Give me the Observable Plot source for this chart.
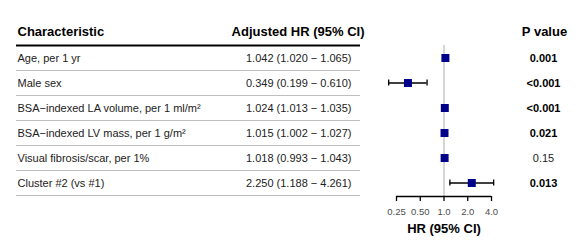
<!DOCTYPE html>
<html>
<head>
<meta charset="utf-8">
<script src="https://cdn.jsdelivr.net/npm/d3@7"></script>
<script src="https://cdn.jsdelivr.net/npm/@observablehq/plot@0.6"></script>
<style>
  html, body { margin: 0; padding: 0; background: #fff; }
  #chart { width: 585px; height: 247px; }
</style>
</head>
<body>
<div id="chart"></div>
<script>
const characteristics = [
  "Age, per 1 yr",
  "Male sex",
  "BSA\u2212indexed LA volume, per 1 ml/m\u00b2",
  "BSA\u2212indexed LV mass, per 1 g/m\u00b2",
  "Visual fibrosis/scar, per 1%",
  "Cluster #2 (vs #1)"
];
const hr = [1.042, 0.349, 1.024, 1.015, 1.018, 2.250];
const ciLow = [1.020, 0.199, 1.013, 1.002, 0.993, 1.188];
const ciHigh = [1.065, 0.610, 1.035, 1.027, 1.043, 4.261];
const pValues = ["0.001", "<0.001", "<0.001", "0.021", "0.15", "0.013"];
const pBold = [true, true, true, true, false, true];
const columnHeaders = ["Characteristic", "Adjusted HR (95% CI)", "P value"];
const xTicks = [0.25, 0.5, 1, 2, 4];
const xTickLabels = ["0.25", "0.50", "1.0", "2.0", "4.0"];
const xTitle = "HR (95% CI)";

const f3 = d3.format(".3f");
const rows = characteristics.map((name, i) => ({
  i, name, hr: hr[i], lo: ciLow[i], hi: ciHigh[i],
  hrText: `${f3(hr[i])} (${f3(ciLow[i])} \u2212 ${f3(ciHigh[i])})`,
  p: pValues[i], bold: pBold[i]
}));
const yc = d => d.i + 0.5;
const font = "'Liberation Sans', Arial, Helvetica, sans-serif";
const textCol = "#222";

const chart = Plot.plot({
  width: 585,
  height: 247,
  marginTop: 0,
  marginRight: 0,
  marginBottom: 51,
  marginLeft: 0,
  style: { fontFamily: font, fontSize: "11px", background: "#fff", color: "#000" },
  x: { type: "log", base: 2, domain: [d3.min(xTicks), d3.max(xTicks)], range: [396, 491] },
  y: { domain: [0, rows.length], range: [45, 195], axis: null },
  marks: [
    // table separators
    Plot.ruleY(rows, { y: d => d.i + 1, insetLeft: 16, insetRight: 225, stroke: "#bebebe", strokeWidth: 1 }),
    Plot.ruleY([0], { insetLeft: 16, insetRight: 225, stroke: "#000", strokeWidth: 2 }),
    // reference line
    Plot.ruleX([1], { y1: 0, y2: rows.length, insetBottom: -1, stroke: "#c8c8c8", strokeWidth: 1.5 }),
    // CI bars
    Plot.ruleY(rows, { y: yc, x1: "lo", x2: "hi", stroke: "#000", strokeWidth: 1.3 }),
    Plot.ruleX(rows, { x: "lo", y1: yc, y2: yc, insetTop: -3, insetBottom: -3, stroke: "#000", strokeWidth: 1.3 }),
    Plot.ruleX(rows, { x: "hi", y1: yc, y2: yc, insetTop: -3, insetBottom: -3, stroke: "#000", strokeWidth: 1.3 }),
    Plot.dot(rows, { x: "hr", y: yc, symbol: "square", r: 4.5, fill: "#00008B", stroke: "none" }),
    // axis
    Plot.ruleY([rows.length], { x1: d3.min(xTicks), x2: d3.max(xTicks), dy: 1, stroke: "#000", strokeWidth: 1.3 }),
    Plot.axisX({
      ticks: xTicks, tickSize: 5, tickPadding: 7, label: null,
      tickFormat: d => xTickLabels[xTicks.indexOf(d)],
      stroke: "#000", strokeWidth: 1.3, fill: "#4d4d4d", fontSize: 9.5
    }),
    Plot.text([xTitle], { x: 1, frameAnchor: "bottom", lineAnchor: "middle", dy: 32, fontSize: 13, fontWeight: "bold", fill: "#000" }),
    // headers
    Plot.text([columnHeaders[0]], { frameAnchor: "top-left", lineAnchor: "middle", dx: 17, dy: 31.5, textAnchor: "start", fontSize: 13, fontWeight: "bold", fill: "#000" }),
    Plot.text([columnHeaders[1]], { frameAnchor: "top-left", lineAnchor: "middle", dx: 364, dy: 31.5, textAnchor: "end", fontSize: 13, fontWeight: "bold", fill: "#000" }),
    Plot.text([columnHeaders[2]], { frameAnchor: "top-left", lineAnchor: "middle", dx: 544, dy: 31.5, textAnchor: "middle", fontSize: 13, fontWeight: "bold", fill: "#000" }),
    // table body
    Plot.text(rows, { y: yc, text: "name", frameAnchor: "left", dx: 17, textAnchor: "start", fontSize: 11, fill: textCol }),
    Plot.text(rows, { y: yc, text: "hrText", frameAnchor: "left", dx: 351, textAnchor: "end", fontSize: 11, fill: textCol }),
    Plot.text(rows.filter(d => d.bold), { y: yc, text: "p", frameAnchor: "left", dx: 543, textAnchor: "middle", fontSize: 11, fontWeight: "bold", fill: "#000" }),
    Plot.text(rows.filter(d => !d.bold), { y: yc, text: "p", frameAnchor: "left", dx: 543, textAnchor: "middle", fontSize: 11, fill: textCol })
  ]
});
document.getElementById("chart").appendChild(chart);
</script>
</body>
</html>
